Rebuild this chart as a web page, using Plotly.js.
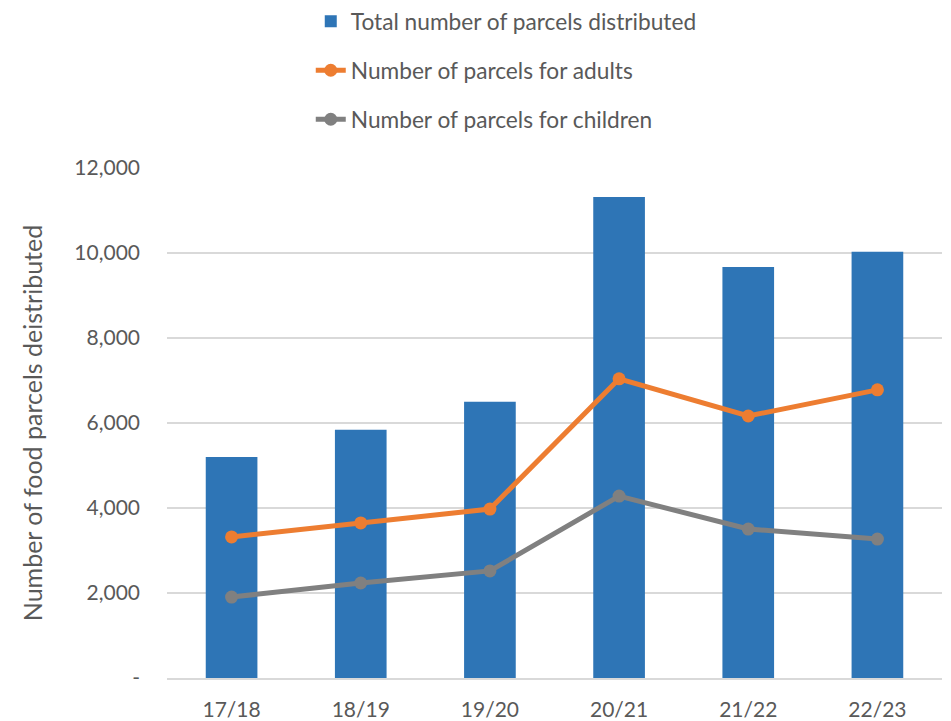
<!DOCTYPE html>
<html>
<head>
<meta charset="utf-8">
<script src="https://cdn.plot.ly/plotly-3.0.1.min.js"></script>
<style>html,body{margin:0;padding:0;background:#fff;}#chart{width:951px;height:721px;}</style>
</head>
<body>
<div id="chart"></div>
<script>
const years = ["17/18", "18/19", "19/20", "20/21", "21/22", "22/23"];
const totalParcels = [5200, 5840, 6500, 11320, 9670, 10030];
const adultParcels = [3320, 3650, 3975, 7040, 6165, 6780];
const childParcels = [1905, 2235, 2520, 4280, 3505, 3270];
const yTickVals = [0, 2000, 4000, 6000, 8000, 10000, 12000];
const yTickText = ["-", "2,000", "4,000", "6,000", "8,000", "10,000", "12,000"];

const FONT = "Lato, 'Open Sans', sans-serif";
const traces = [
  {type: "bar", x: years, y: totalParcels, name: "Total number of parcels distributed",
   marker: {color: "#2E75B6"}, legendgroup: "a"},
  {type: "scatter", mode: "lines+markers", x: years, y: adultParcels, name: "Number of parcels for adults",
   line: {color: "#ED7D31", width: 5}, marker: {color: "#ED7D31", size: 13}, legendgroup: "b"},
  {type: "scatter", mode: "lines+markers", x: years, y: childParcels, name: "Number of parcels for children",
   line: {color: "#808080", width: 5}, marker: {color: "#808080", size: 13}, legendgroup: "c"}
];
const layout = {
  width: 951, height: 721,
  margin: {l: 167, r: 9, t: 168, b: 43},
  paper_bgcolor: "#fff", plot_bgcolor: "#fff",
  font: {family: FONT, color: "#595959", size: 21},
  bargap: 0.6,
  showlegend: true,
  legend: {x: 0.1855, xanchor: "left", yref: "container", y: 1.015, yanchor: "top", orientation: "v",
           traceorder: "grouped", tracegroupgap: 16.5, font: {size: 22.7, color: "#595959"},
           bgcolor: "rgba(0,0,0,0)"},
  xaxis: {type: "category", showgrid: false, showline: true, linecolor: "#d9d9d9", linewidth: 2,
          ticks: "", tickfont: {size: 21, color: "#595959"}, ticklabelstandoff: 12,
          automargin: false, fixedrange: true},
  yaxis: {range: [0, 12000], tickvals: yTickVals, ticktext: yTickText, showgrid: true,
          gridcolor: "#d9d9d9", gridwidth: 2, zeroline: false, showline: false, ticks: "",
          tickfont: {size: 21, color: "#595959"}, ticklabelstandoff: 26,
          title: {text: "Number of food parcels deistributed", font: {size: 25, color: "#595959"}, standoff: 24},
          automargin: false, fixedrange: true}
};
Plotly.newPlot("chart", traces, layout, {displayModeBar: false, staticPlot: true});
</script>
</body>
</html>
